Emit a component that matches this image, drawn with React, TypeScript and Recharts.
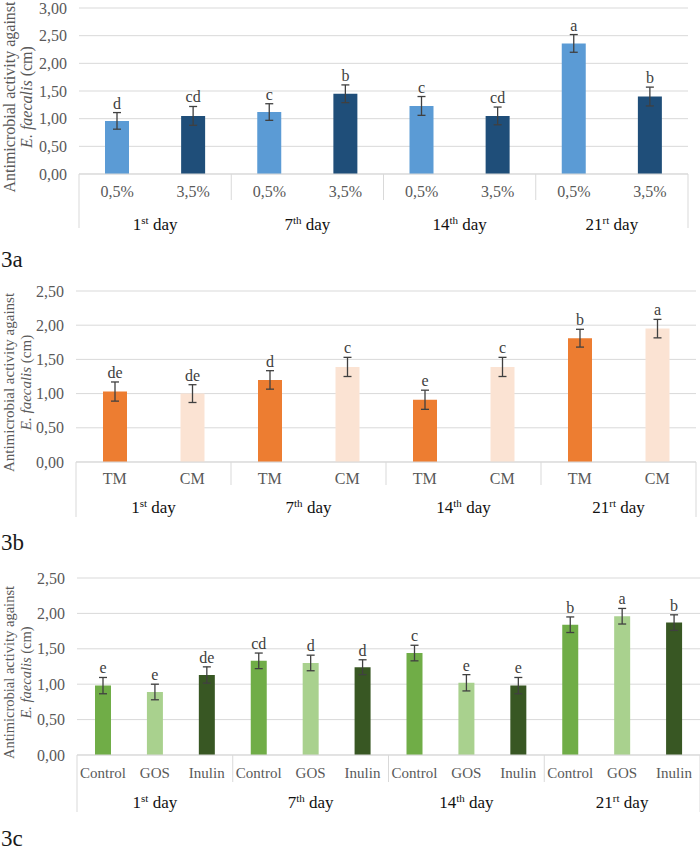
import { BarChart, Bar, XAxis, YAxis, CartesianGrid, ErrorBar, Cell, LabelList } from 'recharts';

// sampling days shared by all three panels
const days = ['1', '7', '14', '21'];
const daySuffix = ['st', 'th', 'th', 'rt'];

// 3a: inoculum dose
const doseLabels = ['0,5%', '3,5%'];
const doseValues = [0.96, 1.05, 1.12, 1.45, 1.23, 1.05, 2.36, 1.4];
const doseErrors = [0.15, 0.17, 0.15, 0.16, 0.17, 0.16, 0.16, 0.17];
const doseLetters = ['d', 'cd', 'c', 'b', 'c', 'cd', 'a', 'b'];
const doseColors = ['#5b9bd5', '#1f4e79'];

// 3b: milk type
const milkLabels = ['TM', 'CM'];
const milkValues = [1.03, 1.0, 1.2, 1.39, 0.91, 1.39, 1.81, 1.95];
const milkErrors = [0.14, 0.13, 0.135, 0.14, 0.14, 0.14, 0.13, 0.135];
const milkLetters = ['de', 'de', 'd', 'c', 'e', 'c', 'b', 'a'];
const milkColors = ['#ed7d31', '#fbe3d3'];

// 3c: prebiotic
const prebioticLabels = ['Control', 'GOS', 'Inulin'];
const prebioticValues = [0.98, 0.89, 1.13, 1.33, 1.3, 1.24, 1.44, 1.02, 0.98, 1.84, 1.96, 1.87];
const prebioticErrors = [0.115, 0.11, 0.115, 0.11, 0.11, 0.105, 0.11, 0.115, 0.115, 0.11, 0.11, 0.11];
const prebioticLetters = ['e', 'e', 'de', 'cd', 'd', 'd', 'c', 'e', 'e', 'b', 'a', 'b'];
const prebioticColors = ['#70ad47', '#a9d18e', '#385723'];

const yTicksA = [0, 0.5, 1, 1.5, 2, 2.5, 3];
const yTicksBC = [0, 0.5, 1, 1.5, 2, 2.5];

const SERIF = '"Liberation Serif", "Times New Roman", serif';
const GRID = '#d9d9d9';
const TICK_TEXT = '#595959';
const AXIS1_H = 30;

const fmt = (v: number) => v.toFixed(2).replace('.', ',');

function buildRows(labels: string[], values: number[], errors: number[], letters: string[]) {
  return values.map((v, i) => ({
    name: labels[i % labels.length],
    day: days[Math.floor(i / labels.length)],
    group: i % labels.length,
    value: v,
    err: errors[i],
    letter: letters[i],
  }));
}

type PanelProps = {
  rows: ReturnType<typeof buildRows>;
  colors: string[];
  groupSize: number;
  ticks: number[];
  plotTop: number;
  plotHeight: number;
  left: number;
  right: number;
  barSize: number;
  tickBase: number;
  tickSize: number;
  dayBase: number;
  innerLen: number;
  outerLen: number;
  titleSize: number;
};

function Panel(p: PanelProps) {
  const marginTop = 10;
  const n = p.rows.length;
  const catW = (700 - p.left - p.right) / n;
  const height = marginTop + p.plotHeight + AXIS1_H + 45;

  const SubTick = (t: any) => {
    const { x, y, payload, index } = t;
    return (
      <g>
        <text x={x} y={y + p.tickBase} textAnchor="middle" fill={TICK_TEXT} fontSize={p.tickSize} fontFamily={SERIF}>
          {payload.value}
        </text>
        {index % p.groupSize === 0 && (
          <line x1={x - catW / 2} x2={x - catW / 2} y1={y} y2={y + (index === 0 ? p.outerLen : p.innerLen)} stroke={GRID} />
        )}
        {index === n - 1 && (
          <line x1={x + catW / 2} x2={x + catW / 2} y1={y} y2={y + p.outerLen} stroke={GRID} />
        )}
      </g>
    );
  };

  const DayTick = (t: any) => {
    const { x, y, payload } = t;
    const k = days.indexOf(payload.value);
    return (
      <text x={x} y={y + p.dayBase - AXIS1_H} textAnchor="middle" fill="#111" fontSize={17} fontFamily={SERIF}>
        <tspan>{payload.value}</tspan>
        <tspan dy={-6} fontSize={11}>{daySuffix[k]}</tspan>
        <tspan dy={6}> day</tspan>
      </text>
    );
  };

  const YTitle = (l: any) => {
    const vb = l.viewBox;
    const cy = vb.y + vb.height / 2 + 6;
    return (
      <g fill={TICK_TEXT} fontFamily={SERIF} fontSize={p.titleSize} textAnchor="middle">
        <text x={9} y={cy} transform={`rotate(-90 9 ${cy})`} dominantBaseline="central">
          Antimicrobial activity against
        </text>
        <text x={26} y={cy} transform={`rotate(-90 26 ${cy})`} dominantBaseline="central">
          <tspan fontStyle="italic">E. faecalis</tspan>
          <tspan> (cm)</tspan>
        </text>
      </g>
    );
  };

  const Letter = (l: any) => {
    const r = p.rows[l.index];
    const errPx = (l.height * r.err) / r.value;
    return (
      <text x={l.x + l.width / 2} y={l.y - errPx - 4} textAnchor="middle" fill="#404040" fontSize={16} fontFamily={SERIF}>
        {r.letter}
      </text>
    );
  };

  return (
    <div style={{ position: 'absolute', left: 0, top: p.plotTop - marginTop }}>
      <BarChart width={700} height={height} data={p.rows} margin={{ top: marginTop, right: p.right, bottom: 0, left: 0 }}>
        <CartesianGrid vertical={false} stroke={GRID} />
        <XAxis
          dataKey="name"
          height={AXIS1_H}
          interval={0}
          tickLine={false}
          tickSize={0}
          tickMargin={0}
          axisLine={{ stroke: GRID }}
          tick={SubTick}
        />
        <XAxis
          xAxisId="day"
          dataKey="day"
          allowDuplicatedCategory={false}
          height={45}
          interval={0}
          tickLine={false}
          tickSize={0}
          tickMargin={0}
          axisLine={false}
          tick={DayTick}
        />
        <YAxis
          width={p.left}
          domain={[0, p.ticks[p.ticks.length - 1]]}
          ticks={p.ticks}
          interval={0}
          tickLine={false}
          axisLine={false}
          tickSize={0}
          tickMargin={12}
          tickFormatter={fmt}
          tick={{ fill: TICK_TEXT, fontSize: 16, fontFamily: SERIF }}
          label={{ content: YTitle }}
        />
        <Bar dataKey="value" barSize={p.barSize} isAnimationActive={false}>
          {p.rows.map((r, i) => (
            <Cell key={i} fill={p.colors[r.group]} />
          ))}
          <ErrorBar dataKey="err" width={4} stroke="#404040" strokeWidth={1.3} direction="y" isAnimationActive={false} />
          <LabelList dataKey="letter" content={Letter} />
        </Bar>
      </BarChart>
    </div>
  );
}

export default function App() {
  const doseRows = buildRows(doseLabels, doseValues, doseErrors, doseLetters);
  const milkRows = buildRows(milkLabels, milkValues, milkErrors, milkLetters);
  const prebioticRows = buildRows(prebioticLabels, prebioticValues, prebioticErrors, prebioticLetters);

  return (
    <div style={{ position: 'absolute', left: 0, top: 0, width: 700, height: 851, background: '#fff', overflow: 'hidden' }}>
      <Panel
        rows={doseRows} colors={doseColors} groupSize={2} ticks={yTicksA}
        plotTop={8} plotHeight={166} left={79} right={12} barSize={24}
        tickBase={23} tickSize={16} dayBase={56} innerLen={26} outerLen={54} titleSize={16}
      />
      <Panel
        rows={milkRows} colors={milkColors} groupSize={2} ticks={yTicksBC}
        plotTop={291} plotHeight={171} left={76} right={4} barSize={24}
        tickBase={22} tickSize={16} dayBase={51} innerLen={23} outerLen={55} titleSize={15}
      />
      <Panel
        rows={prebioticRows} colors={prebioticColors} groupSize={3} ticks={yTicksBC}
        plotTop={578} plotHeight={177} left={77} right={0} barSize={16}
        tickBase={23} tickSize={15} dayBase={53} innerLen={27} outerLen={57} titleSize={14.5}
      />
      <svg width={700} height={851} style={{ position: 'absolute', left: 0, top: 0, pointerEvents: 'none' }}>
        <g fontFamily={SERIF} fontSize={23} fill="#1a1a1a">
          <text x={1} y={267}>3a</text>
          <text x={1} y={550}>3b</text>
          <text x={1} y={846}>3c</text>
        </g>
      </svg>
    </div>
  );
}
